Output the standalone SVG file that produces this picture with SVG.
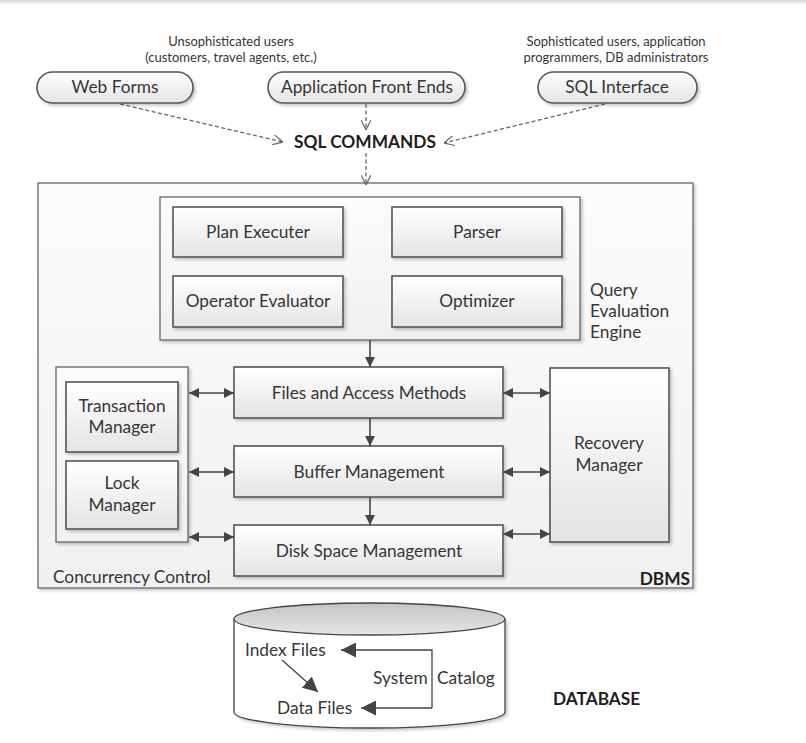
<svg xmlns="http://www.w3.org/2000/svg" width="806" height="743" viewBox="0 0 806 743">
<style>
text{font-family:Lato,"Liberation Sans",sans-serif;fill:#363636;font-size:17.3px}
.t{text-anchor:middle}
.s{font-size:13px;text-anchor:middle}
.b{font-weight:bold;fill:#1e1e1e}
.box{fill:url(#gBox);stroke:#555;stroke-width:1.6;filter:url(#sh)}
.pill{fill:url(#gBox);stroke:#555;stroke-width:1.6;filter:url(#sh)}
.panel{fill:url(#gPanel);stroke:#666;stroke-width:1.3;filter:url(#sh)}
.dash{fill:none;stroke:#666;stroke-width:1.3;stroke-dasharray:4 2.5;marker-end:url(#open)}
.arr{fill:none;stroke:#444;stroke-width:1.6;marker-end:url(#fill)}
.dbl{fill:none;stroke:#444;stroke-width:1.6;marker-start:url(#fillS);marker-end:url(#fill)}
.cyl{fill:none;stroke:#444;stroke-width:1.3}
</style>
<defs>
<linearGradient id="gBox" x1="0" y1="0" x2="0" y2="1"><stop offset="0" stop-color="#ffffff"/><stop offset="1" stop-color="#e4e4e4"/></linearGradient>
<linearGradient id="gPanel" x1="0" y1="0" x2="0" y2="1"><stop offset="0" stop-color="#fcfcfc"/><stop offset="1" stop-color="#f0f0f0"/></linearGradient>
<linearGradient id="gTop" x1="0" y1="0" x2="0" y2="1"><stop offset="0" stop-color="#c4c4c4"/><stop offset="1" stop-color="#e6e6e6"/></linearGradient>
<linearGradient id="gBar" x1="0" y1="0" x2="0" y2="1"><stop offset="0" stop-color="#d8d8d8"/><stop offset="1" stop-color="#ffffff"/></linearGradient>
<filter id="sh" x="-10%" y="-10%" width="120%" height="130%"><feDropShadow dx="2" dy="2" stdDeviation="1.5" flood-color="#000" flood-opacity="0.22"/></filter>
<marker id="open" viewBox="0 0 10 10" refX="10" refY="5" markerWidth="10" markerHeight="10" markerUnits="userSpaceOnUse" orient="auto"><path d="M0,0 L10,5 L0,10" fill="none" stroke="#666" stroke-width="1.2"/></marker>
<marker id="fill" viewBox="0 0 10 10" refX="10" refY="5" markerWidth="10" markerHeight="10" markerUnits="userSpaceOnUse" orient="auto"><path d="M0,0 L10,5 L0,10 z" fill="#444"/></marker>
<marker id="fillS" viewBox="0 0 10 10" refX="0" refY="5" markerWidth="10" markerHeight="10" markerUnits="userSpaceOnUse" orient="auto"><path d="M10,0 L0,5 L10,10 z" fill="#444"/></marker>
<marker id="big" viewBox="0 0 10 10" refX="10" refY="5" markerWidth="15" markerHeight="15" markerUnits="userSpaceOnUse" orient="auto"><path d="M0,0 L10,5 L0,10 z" fill="#444"/></marker>
</defs>
<rect x="0" y="0" width="806" height="5" fill="url(#gBar)"/>

<text class="s" x="231" y="46">Unsophisticated users</text>
<text class="s" x="231" y="62">(customers, travel agents, etc.)</text>
<text class="s" x="616" y="46">Sophisticated users, application</text>
<text class="s" x="616" y="62">programmers, DB administrators</text>

<g id="web-forms"><rect class="pill" x="37" y="72" width="156" height="31" rx="15.5"/><text class="t" x="115" y="93">Web Forms</text></g>
<g id="app-front-ends"><rect class="pill" x="268" y="72" width="197" height="31" rx="15.5"/><text class="t" x="367" y="93">Application Front Ends</text></g>
<g id="sql-interface"><rect class="pill" x="538" y="72" width="159" height="31" rx="15.5"/><text class="t" x="617" y="93">SQL Interface</text></g>
<g id="sql-commands"><text class="b" x="365" y="148" text-anchor="middle" font-size="16.5">SQL COMMANDS</text></g>

<g id="dbms"><rect class="panel" x="38" y="183" width="655" height="405" stroke="#555"/><text class="b" x="690" y="585" text-anchor="end" font-size="15.5">DBMS</text></g>

<g id="query-evaluation-engine"><rect class="panel" x="160" y="197" width="420" height="143"/>
<text x="590" y="296">Query</text><text x="590" y="317">Evaluation</text><text x="590" y="338">Engine</text></g>
<g id="plan-executer"><rect class="box" x="173" y="207" width="170" height="50"/><text class="t" x="258" y="238">Plan Executer</text></g>
<g id="parser"><rect class="box" x="392" y="207" width="170" height="50"/><text class="t" x="477" y="238">Parser</text></g>
<g id="operator-evaluator"><rect class="box" x="173" y="276" width="170" height="51"/><text class="t" x="258" y="307">Operator Evaluator</text></g>
<g id="optimizer"><rect class="box" x="392" y="276" width="170" height="51"/><text class="t" x="477" y="307">Optimizer</text></g>

<g id="concurrency-control"><rect class="panel" x="56" y="367" width="132" height="175"/><text x="53" y="583">Concurrency Control</text></g>
<g id="transaction-manager"><rect class="box" x="66" y="382" width="112" height="70"/><text class="t" x="122" y="412">Transaction</text><text class="t" x="122" y="433">Manager</text></g>
<g id="lock-manager"><rect class="box" x="66" y="461" width="112" height="68"/><text class="t" x="122" y="489">Lock</text><text class="t" x="122" y="511">Manager</text></g>

<g id="files-access"><rect class="box" x="234" y="367" width="269" height="51"/><text class="t" x="369" y="399">Files and Access Methods</text></g>
<g id="buffer-management"><rect class="box" x="234" y="446" width="269" height="51"/><text class="t" x="369" y="478">Buffer Management</text></g>
<g id="disk-space-management"><rect class="box" x="234" y="525" width="269" height="51"/><text class="t" x="369" y="557">Disk Space Management</text></g>
<g id="recovery-manager"><rect class="box" x="550" y="368" width="119" height="174"/><text class="t" x="609" y="449">Recovery</text><text class="t" x="609" y="471">Manager</text></g>

<g id="database">
<path d="M234,619 L234,712 A135.5,16 0 0 0 505,712 L505,619" fill="#fff" stroke="#444" stroke-width="1.3" filter="url(#sh)"/>
<ellipse cx="369.5" cy="619" rx="135.5" ry="16" fill="url(#gTop)" stroke="#444" stroke-width="1.3"/>
<text x="245" y="656">Index Files</text>
<text x="277" y="714">Data Files</text>
<text y="684"><tspan x="373">System</tspan><tspan x="437">Catalog</tspan></text>
<line x1="282" y1="660" x2="318" y2="692" class="cyl" marker-end="url(#big)"/>
<path d="M432,708 L432,650 L341,650" class="cyl" marker-end="url(#big)"/>
<path d="M432,708 L361,708" class="cyl" marker-end="url(#big)"/>
<text class="b" x="553" y="705" font-size="16.5">DATABASE</text>
</g>

<g id="connectors">
<path class="dash" d="M120,104 L283,142"/>
<path class="dash" d="M366,104 L366,130"/>
<path class="dash" d="M605,104 L444,143"/>
<path class="dash" d="M366,153 L366,185"/>
<path class="arr" d="M370,340 L370,367"/>
<path class="arr" d="M370,418 L370,446"/>
<path class="arr" d="M370,497 L370,525"/>
<path class="dbl" d="M189,393 L234,393"/>
<path class="dbl" d="M189,472 L234,472"/>
<path class="dbl" d="M189,537 L234,537"/>
<path class="dbl" d="M503,393 L550,393"/>
<path class="dbl" d="M503,472 L550,472"/>
<path class="dbl" d="M503,534 L550,534"/>
</g>
</svg>
